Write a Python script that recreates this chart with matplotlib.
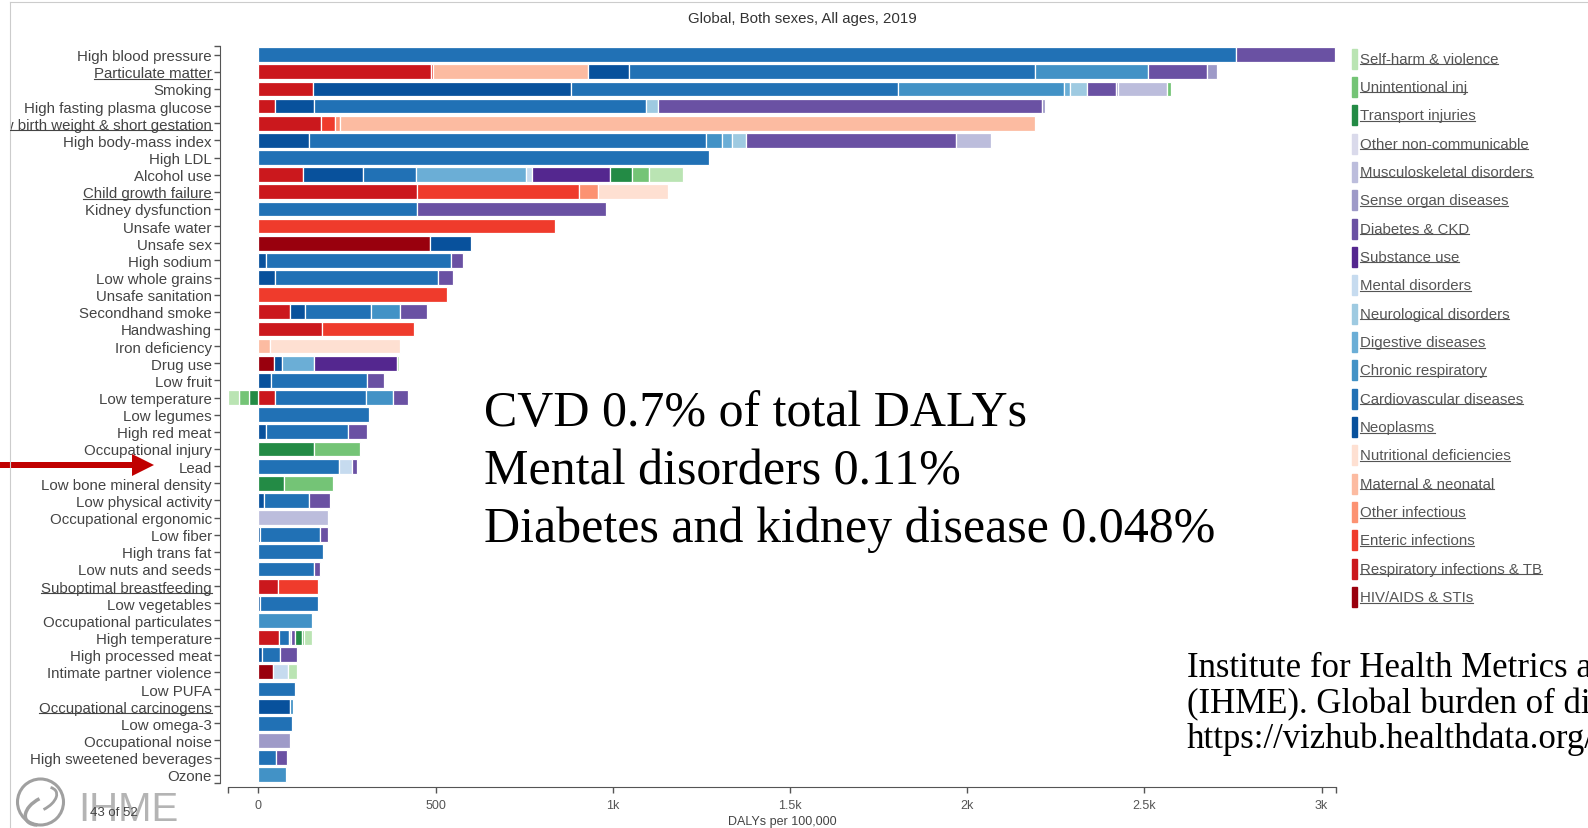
#!/usr/bin/env python3

"""GBD 2019 risk factor chart: DALYs per 100,000 by risk, stacked by cause."""

import matplotlib
matplotlib.use("Agg")
import matplotlib.pyplot as plt
from matplotlib.patches import Rectangle, Circle, Arc, FancyArrow
from matplotlib.lines import Line2D
from matplotlib.transforms import Bbox, IdentityTransform

W, H = 1588, 829

risks = [
    "High blood pressure", "Particulate matter", "Smoking", "High fasting plasma glucose",
    "Low birth weight & short gestation", "High body-mass index", "High LDL", "Alcohol use",
    "Child growth failure", "Kidney dysfunction", "Unsafe water", "Unsafe sex",
    "High sodium", "Low whole grains", "Unsafe sanitation", "Secondhand smoke",
    "Handwashing", "Iron deficiency", "Drug use", "Low fruit", "Low temperature",
    "Low legumes", "High red meat", "Occupational injury", "Lead",
    "Low bone mineral density", "Low physical activity", "Occupational ergonomic",
    "Low fiber", "High trans fat", "Low nuts and seeds", "Suboptimal breastfeeding",
    "Low vegetables", "Occupational particulates", "High temperature",
    "High processed meat", "Intimate partner violence", "Low PUFA",
    "Occupational carcinogens", "Low omega-3", "Occupational noise",
    "High sweetened beverages", "Ozone",
]
underlined = ["Particulate matter", "Low birth weight & short gestation",
              "Child growth failure", "Suboptimal breastfeeding", "Occupational carcinogens"]

# one value per risk (same order as risks), DALYs per 100,000
hiv = [0, 0, 0, 0, 0, 0, 0, 0, 0, 0,
       0, 484, 0, 0, 0, 0, 0, 0, 45, 0,
       0, 0, 0, 0, 0, 0, 0, 0, 0, 0,
       0, 0, 0, 0, 0, 0, 42, 0, 0, 0,
       0, 0, 0]
resp_inf = [0, 486, 153, 47, 177, 0, 0, 127, 449, 0,
            0, 0, 0, 0, 0, 90, 179, 0, 0, 0,
            48, 0, 0, 0, 0, 0, 0, 0, 0, 0,
            0, 56, 0, 0, 59, 0, 0, 0, 0, 0,
            0, 0, 0]
enteric = [0, 8, 0, 0, 39, 0, 0, 0, 457, 0,
           837, 0, 0, 0, 532, 0, 260, 0, 0, 0,
           0, 0, 0, 0, 0, 0, 0, 0, 0, 0,
           0, 112, 0, 0, 0, 0, 0, 0, 0, 0,
           0, 0, 0]
other_inf = [0, 0, 0, 0, 15, 0, 0, 0, 53, 0,
             0, 0, 0, 0, 0, 0, 0, 0, 0, 0,
             0, 0, 0, 0, 0, 0, 0, 0, 0, 0,
             0, 0, 0, 0, 0, 0, 0, 0, 0, 0,
             0, 0, 0]
maternal = [0, 435, 0, 0, 1960, 0, 0, 0, 0, 0,
            0, 0, 0, 0, 0, 0, 0, 34, 0, 0,
            0, 0, 0, 0, 0, 0, 0, 0, 0, 0,
            0, 0, 0, 0, 0, 0, 0, 0, 0, 0,
            0, 0, 0]
nutritional = [0, 0, 0, 0, 0, 0, 0, 0, 198, 0,
               0, 0, 0, 0, 0, 0, 0, 367, 0, 0,
               0, 0, 0, 0, 0, 0, 0, 0, 0, 0,
               0, 0, 0, 0, 0, 0, 0, 0, 0, 0,
               0, 0, 0]
neoplasms = [0, 116, 728, 110, 0, 143, 0, 167, 0, 0,
             0, 116, 22, 47, 0, 41, 0, 0, 22, 37,
             0, 0, 23, 0, 0, 0, 15, 0, 6, 0,
             0, 0, 6, 0, 0, 10, 0, 0, 89, 0,
             0, 0, 0]
cardio = [2760, 1146, 923, 937, 0, 1119, 1272, 151, 0, 449,
          0, 0, 521, 459, 0, 188, 0, 0, 0, 269,
          257, 312, 231, 0, 228, 0, 129, 0, 168, 183,
          158, 0, 161, 0, 28, 52, 0, 103, 0, 94,
          0, 51, 0]
chronic_resp = [0, 318, 469, 0, 0, 47, 0, 0, 0, 0,
                0, 0, 0, 0, 0, 82, 0, 0, 0, 0,
                76, 0, 0, 0, 0, 0, 0, 0, 0, 0,
                0, 0, 0, 152, 0, 0, 0, 0, 10, 0,
                0, 0, 79]
digestive = [0, 0, 18, 0, 0, 28, 0, 310, 0, 0,
             0, 0, 0, 0, 0, 0, 0, 0, 90, 0,
             0, 0, 0, 0, 0, 0, 0, 0, 0, 0,
             0, 0, 0, 0, 0, 0, 0, 0, 0, 0,
             0, 0, 0]
neuro = [0, 0, 46, 34, 0, 40, 0, 0, 0, 0,
         0, 0, 0, 0, 0, 0, 0, 0, 0, 0,
         0, 0, 0, 0, 0, 0, 0, 0, 0, 0,
         0, 0, 0, 0, 0, 0, 0, 0, 0, 0,
         0, 0, 0]
mental = [0, 0, 0, 0, 0, 0, 0, 17, 0, 0,
          0, 0, 0, 0, 0, 0, 0, 0, 0, 0,
          0, 0, 0, 0, 35, 0, 0, 0, 0, 0,
          0, 0, 0, 0, 4, 0, 42, 0, 0, 0,
          0, 0, 0]
substance = [0, 0, 0, 0, 0, 0, 0, 220, 0, 0,
             0, 0, 0, 0, 0, 0, 0, 0, 233, 0,
             0, 0, 0, 0, 0, 0, 0, 0, 0, 0,
             0, 0, 0, 0, 0, 0, 0, 0, 0, 0,
             0, 0, 0]
diabetes = [277, 169, 84, 1083, 0, 591, 0, 0, 0, 533,
            0, 0, 34, 42, 0, 74, 0, 0, 0, 50,
            40, 0, 53, 0, 16, 0, 58, 0, 23, 0,
            16, 0, 0, 0, 13, 47, 0, 0, 0, 0,
            0, 30, 0]
sense = [0, 27, 6, 9, 0, 0, 0, 0, 0, 0,
         0, 0, 0, 0, 0, 0, 0, 0, 0, 0,
         0, 0, 0, 0, 0, 0, 0, 0, 0, 0,
         0, 0, 0, 0, 0, 0, 0, 0, 0, 0,
         89, 0, 0]
musculo = [0, 0, 137, 0, 0, 99, 0, 0, 0, 0,
           0, 0, 0, 0, 0, 0, 0, 0, 0, 0,
           0, 0, 0, 0, 0, 0, 0, 197, 0, 0,
           0, 0, 0, 0, 0, 0, 0, 0, 0, 0,
           0, 0, 0]
other_ncd = [0, 0, 0, 0, 0, 0, 0, 0, 0, 0,
             0, 0, 0, 0, 0, 0, 0, 0, 0, 0,
             0, 0, 0, 0, 0, 0, 0, 0, 0, 0,
             0, 0, 0, 0, 0, 0, 0, 0, 0, 0,
             0, 0, 0]
transport = [0, 0, 0, 0, 0, 0, 0, 63, 0, 0,
             0, 0, 0, 0, 0, 0, 0, 0, 0, 0,
             -26, 0, 0, 156, 0, 72, 0, 0, 0, 0,
             0, 0, 0, 0, 18, 0, 0, 0, 0, 0,
             0, 0, 0]
unintentional = [0, 0, 12, 0, 0, 0, 0, 46, 0, 0,
                 0, 0, 0, 0, 0, 0, 0, 0, 0, 0,
                 -29, 0, 0, 132, 0, 138, 0, 0, 0, 0,
                 0, 0, 0, 0, 6, 0, 0, 0, 0, 0,
                 0, 0, 0]
self_harm = [0, 0, 0, 0, 0, 0, 0, 98, 0, 0,
             0, 0, 0, 0, 0, 0, 0, 0, 6, 0,
             -30, 0, 0, 0, 0, 0, 0, 0, 0, 0,
             0, 0, 0, 0, 23, 0, 25, 0, 0, 0,
             0, 0, 0]

# stacking order (left to right)
cause_names = ["HIV/AIDS & STIs", "Respiratory infections & TB", "Enteric infections",
               "Other infectious", "Maternal & neonatal", "Nutritional deficiencies",
               "Neoplasms", "Cardiovascular diseases", "Chronic respiratory",
               "Digestive diseases", "Neurological disorders", "Mental disorders",
               "Substance use", "Diabetes & CKD", "Sense organ diseases",
               "Musculoskeletal disorders", "Other non-communicable", "Transport injuries",
               "Unintentional inj", "Self-harm & violence"]
cause_values = [hiv, resp_inf, enteric, other_inf, maternal, nutritional, neoplasms, cardio,
                chronic_resp, digestive, neuro, mental, substance, diabetes, sense, musculo,
                other_ncd, transport, unintentional, self_harm]
cause_colors = ["#99000d", "#cb181d", "#ef3b2c", "#fc9272", "#fcbba1", "#fee0d2",
                "#08519c", "#2171b5", "#4292c6", "#6baed6", "#9ecae1", "#c6dbef",
                "#54278f", "#6a51a3", "#9e9ac8", "#bcbddc", "#dadaeb",
                "#238b45", "#74c476", "#bae4b3"]

xticks = [0, 500, 1000, 1500, 2000, 2500, 3000]
xticklabels = ["0", "500", "1k", "1.5k", "2k", "2.5k", "3k"]

notes = ["CVD 0.7% of total DALYs", "Mental disorders 0.11%",
         "Diabetes and kidney disease 0.048%"]
source = ["Institute for Health Metrics and Evaluation",
          "(IHME). Global burden of disease",
          "https://vizhub.healthdata.org/gbd-compare/"]


def fx(px):
    return px / W


def fy(py):
    return 1 - py / H


def underline(fig, text, renderer, color, clip=None):
    bb = text.get_window_extent(renderer)
    line = Line2D([bb.x0, bb.x1], [bb.y0 + 1.5, bb.y0 + 1.5], color=color, lw=0.8,
                  transform=IdentityTransform())
    if clip is not None:
        line.set_clip_box(clip)
        line.set_clip_on(True)
    fig.add_artist(line)


def main():
    plt.rcParams.update({
        "font.family": "Liberation Sans",
        "font.size": 10.8,
        "axes.edgecolor": "#555555",
        "xtick.color": "#555555",
        "ytick.color": "#555555",
    })
    fig = plt.figure(figsize=(W / 100, H / 100), dpi=100)
    ax = fig.add_axes([fx(228.2), fy(784.3), fx(1335.7) - fx(228.2), fy(47.1) - fy(784.3)])

    n = len(risks)
    pos = [0.0] * n
    neg = [0.0] * n
    for vals, color in zip(cause_values, cause_colors):
        ys, lefts, widths = [], [], []
        for i, v in enumerate(vals):
            if v > 0:
                ys.append(i)
                lefts.append(pos[i])
                widths.append(v)
                pos[i] += v
            elif v < 0:
                ys.append(i)
                lefts.append(neg[i])
                widths.append(v)
                neg[i] += v
        if ys:
            ax.barh(ys, widths, left=lefts, height=0.86, color=color,
                    edgecolor="white", linewidth=0.9)

    ax.set_xlim(-85, 3040)
    ax.set_ylim(n - 0.5, -0.5)
    for s in ["top", "right"]:
        ax.spines[s].set_visible(False)
    ax.spines["left"].set_position(("outward", 6))
    ax.spines["bottom"].set_position(("outward", 3))

    ax.set_yticks(range(n))
    ax.set_yticklabels(risks)
    ax.set_yticks([-0.5, n - 0.5], minor=True)
    ax.set_xticks(xticks)
    ax.set_xticklabels(xticklabels)
    ax.set_xticks([-85, 3040], minor=True)
    ax.tick_params(axis="y", which="both", length=4.3, width=1, pad=1.5,
                   labelsize=10.8, labelcolor="#444444")
    ax.tick_params(axis="x", which="both", length=4.3, width=1, pad=4,
                   labelsize=9, labelcolor="#555555")
    ax.set_xlabel("DALYs per 100,000", fontsize=9, color="#444444", labelpad=3)

    fig.text(fx(802), fy(18.5), "Global, Both sexes, All ages, 2019", ha="center",
             va="center", fontsize=10.8, color="#333333")

    # legend, drawn the way the web page does it
    for k, idx in enumerate(range(len(cause_names) - 1, -1, -1)):
        yc = 59.5 + k * 28.35
        fig.add_artist(Rectangle((1352.3, H - yc - 10), 4.4, 20, color=cause_colors[idx],
                                 transform=IdentityTransform()))
        fig.text(fx(1359.5), fy(yc), cause_names[idx], ha="left", va="center",
                 fontsize=10.8, color="#555555")

    # notes on the slide
    for txt, base in zip(notes, [426.4, 484.1, 541.8]):
        fig.text(fx(484), fy(base), txt, ha="left", va="baseline",
                 family="Liberation Serif", fontsize=36, color="black")
    for txt, base in zip(source, [677.5, 713.0, 748.4]):
        fig.text(fx(1187), fy(base), txt, ha="left", va="baseline",
                 family="Liberation Serif", fontsize=25, color="black")

    # red arrow to "Lead"
    fig.add_artist(FancyArrow(0, H - 466, 154, 0, width=6, head_width=22, head_length=22,
                              length_includes_head=True, color="#c00000", lw=0,
                              transform=IdentityTransform()))

    # frame of the screenshot
    fig.add_artist(Line2D([10.1, W], [H - 3, H - 3], color="#cccccc", lw=0.8,
                          transform=IdentityTransform()))
    fig.add_artist(Line2D([10.1, 10.1], [0, H - 3], color="#cccccc", lw=0.8,
                          transform=IdentityTransform()))

    # IHME logo and page counter
    fig.add_artist(Circle((40.5, 26), 23, fill=False, ec="#a0a0a0", lw=2.2,
                          transform=IdentityTransform()))
    fig.add_artist(Arc((46, 18), 44, 26, angle=25, theta1=95, theta2=215, ec="#a0a0a0",
                       lw=2.5, transform=IdentityTransform()))
    fig.add_artist(Arc((38, 28), 40, 22, angle=25, theta1=275, theta2=20, ec="#a0a0a0",
                       lw=2.0, transform=IdentityTransform()))
    fig.text(fx(78), fy(821), "IHME", ha="left", va="baseline", fontsize=29,
             color="#b4b4b4")
    fig.text(fx(90), fy(816), "43 of 52", ha="left", va="baseline", fontsize=9.5,
             color="#444444")

    fig.canvas.draw()
    renderer = fig.canvas.get_renderer()
    clip = Bbox.from_extents(10.1, 0, W, H)
    for lbl in ax.get_yticklabels():
        if lbl.get_text() in underlined:
            if lbl.get_text().startswith("Low birth"):
                lbl.set_clip_box(clip)
                lbl.set_clip_on(True)
                underline(fig, lbl, renderer, "#444444", clip)
            else:
                underline(fig, lbl, renderer, "#444444")
    for t in fig.texts:
        if t.get_text() in cause_names:
            underline(fig, t, renderer, "#555555")

    fig.savefig("out.png", dpi=100)
    plt.close(fig)


if __name__ == "__main__":
    main()
